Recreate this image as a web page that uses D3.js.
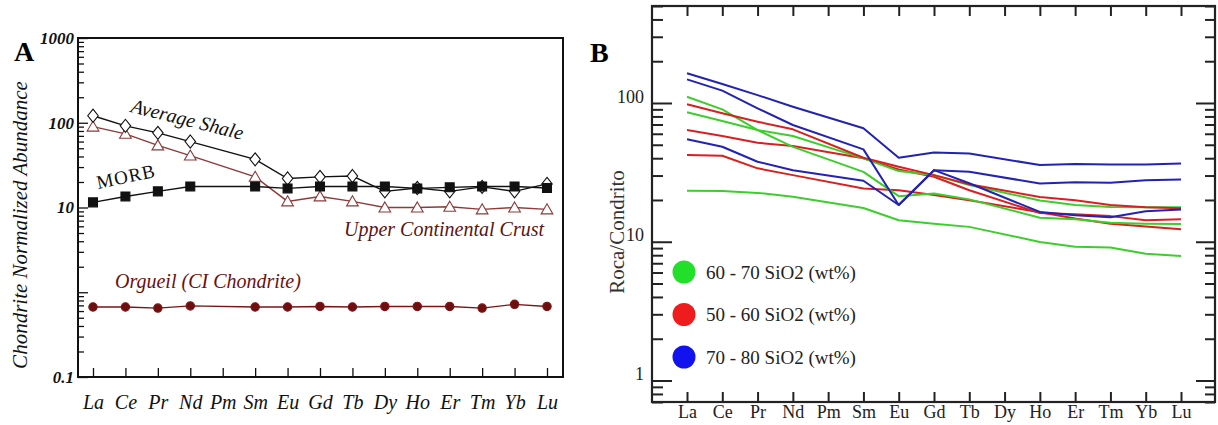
<!DOCTYPE html>
<html><head><meta charset="utf-8">
<script src="https://cdn.jsdelivr.net/npm/d3@7"></script>
<style>body{margin:0;background:#fff}svg{display:block}</style>
</head><body>
<svg id="c" width="1218" height="425"></svg>
<script>
// ---------- DATA ----------
const elements = ["La","Ce","Pr","Nd","Pm","Sm","Eu","Gd","Tb","Dy","Ho","Er","Tm","Yb","Lu"];
// Panel A (chondrite-normalized)
const averageShale = [121, 92, 76, 60, null, 37, 22, 23, 23.5, 15.5, 17, 15.5, 17.5, 15.5, 19];
const morb         = [11.5, 13.5, 15.5, 17.7, null, 17.7, 16.8, 17.7, 17.7, 17.7, 16.8, 17.3, 17.7, 17.7, 17];
const upperCrust   = [90, 74, 54, 41, null, 23, 11.8, 13.5, 11.8, 10, 10, 10.2, 9.5, 10, 9.5];
const orgueil      = [0.67, 0.67, 0.65, 0.69, null, 0.67, 0.67, 0.68, 0.67, 0.68, 0.68, 0.68, 0.65, 0.72, 0.68];
const yTicksA = [1000, 100, 10, 0.1];
// Panel B (roca/condrito)
const green1 = [111, 90, 63.8, 48.3, null, 31.9, 21.3, 22.3, 20.2, null, 14.9, 14.5, 13.7, 13.5, 13.4];
const green2 = [85.7, 74.1, 63.8, 57.8, null, 39.9, 32.3, 30.2, 25.6, null, 19.8, 18.4, 17.8, 17.7, 17.7];
const green3 = [23.3, 23.2, 22.5, 21.1, null, 17.5, 14.3, 13.5, 12.8, null, 9.97, 9.2, 9.08, 8.2, 7.9];
const red1   = [97.9, 84.3, 73.3, 64.6, null, 40.3, 34.7, 30.2, 26.0, null, 21.0, 19.9, 18.4, 17.7, 17.4];
const red2   = [63.8, 57.8, 51.7, 48.9, null, 39.9, 33.2, 29.4, 23.5, null, 16.1, 15.8, 15.3, 14.3, 14.5];
const red3   = [42.1, 41.7, 33.8, 30.2, null, 24.2, 23.5, 21.7, 19.9, null, 16.3, 14.7, 13.5, 12.9, 12.3];
const blue1  = [164, 137, 114, 94, null, 65.7, 40.3, 44, 43.3, null, 35.7, 36.3, 36.1, 36.1, 36.7];
const blue2  = [148, 122.7, 91.5, 69.4, null, 46.3, 18.4, 32.8, 31.9, null, 26.3, 26.8, 26.6, 27.7, 28.1];
const blue3  = [54.7, 48.4, 37.7, 32.8, null, 27.5, 18.4, 32.8, 26.4, null, 16.4, 15.5, 15.0, 16.6, 17.1];
const legendLabels = ["60 - 70 SiO2 (wt%)", "50 - 60 SiO2 (wt%)", "70 - 80 SiO2 (wt%)"];
const yTicksB = [100, 10, 1];

// ---------- COMMON ----------
const svg = d3.select("#c");
const pts = vals => elements.map((e,i)=>[e, vals[i]]).filter(d=>d[1]!=null);
function minors(lo, hi){const r=[];for(let p=Math.floor(Math.log10(lo));p<Math.log10(hi);p++){for(let k=2;k<=9;k++){const v=k*Math.pow(10,p);if(v>=lo-1e-9&&v<=hi+1e-9)r.push(v);}}return r;}
function majors(lo,hi){const r=[];for(let p=Math.ceil(Math.log10(lo));p<=Math.floor(Math.log10(hi));p++)r.push(Math.pow(10,p));return r;}

// ---------- PANEL A ----------
const A = {l:78, r:563, t:38, b:377};
const xA = d3.scalePoint().domain(elements).range([93, 547]);
const yA = d3.scaleLog().domain([0.1, 1000]).range([A.b, A.t]);
const gA = svg.append("g");
const fontA = "'Liberation Serif', serif";

gA.append("g").attr("transform",`translate(${A.l},0)`)
  .call(d3.axisLeft(yA).tickValues(minors(0.1,1000)).tickSize(-6).tickFormat(""))
  .call(g=>g.select(".domain").remove());
gA.append("g").attr("transform",`translate(${A.l},0)`)
  .call(d3.axisLeft(yA).tickValues(majors(0.1,1000)).tickSize(-10).tickPadding(4)
        .tickFormat(d=>yTicksA.includes(d)? (d<1? d3.format(".1f")(d): String(d)) : ""))
  .call(g=>g.select(".domain").remove())
  .call(g=>g.selectAll("text").attr("font-family",fontA).attr("font-style","italic").attr("font-weight","bold").attr("font-size",17).attr("fill","#111"));
gA.append("g").attr("transform",`translate(0,${A.b})`)
  .call(d3.axisBottom(xA).tickSize(-9).tickPadding(18))
  .call(g=>g.select(".domain").remove())
  .call(g=>g.selectAll("text").attr("font-family",fontA).attr("font-style","italic").attr("font-size",20).attr("fill","#111"));
gA.selectAll(".tick line").attr("stroke","#111").attr("stroke-width",1.3);
gA.append("rect").attr("x",A.l).attr("y",A.t).attr("width",A.r-A.l).attr("height",A.b-A.t)
  .attr("fill","none").attr("stroke","#111").attr("stroke-width",2);

const lineA = d3.line().x(d=>xA(d[0])).y(d=>yA(d[1]));
function seriesA(vals, color, marker, fill, size){
  gA.append("path").datum(pts(vals)).attr("d",lineA).attr("fill","none").attr("stroke",color).attr("stroke-width",1.4);
  gA.append("g").selectAll("path").data(pts(vals)).join("path")
    .attr("transform",d=>`translate(${xA(d[0])},${yA(d[1])})`)
    .attr("d",d3.symbol().type(marker).size(size))
    .attr("fill",fill).attr("stroke",color).attr("stroke-width",1.1);
}
const diamond = {draw(ctx,size){const r=Math.sqrt(size)/1.6;ctx.moveTo(0,-r);ctx.lineTo(r*0.8,0);ctx.lineTo(0,r);ctx.lineTo(-r*0.8,0);ctx.closePath();}};
const triUp = {draw(ctx,size){const r=Math.sqrt(size)/1.7;ctx.moveTo(0,-r);ctx.lineTo(r*1.05,r*0.8);ctx.lineTo(-r*1.05,r*0.8);ctx.closePath();}};
seriesA(upperCrust, "#8c3a3a", triUp, "#fff", 90);
seriesA(averageShale, "#111", diamond, "#fff", 110);
seriesA(morb, "#111", d3.symbolSquare, "#111", 80);
seriesA(orgueil, "#7a1515", d3.symbolCircle, "#6e0f0f", 55);

gA.append("text").attr("x",14).attr("y",61).text("A").attr("font-family",fontA).attr("font-weight","bold").attr("font-size",28).attr("fill","#000");
gA.append("text").attr("transform","translate(130,112) rotate(14)").text("Average Shale")
  .attr("font-family",fontA).attr("font-style","italic").attr("font-size",20).attr("fill","#111");
gA.append("text").attr("transform","translate(98,189) rotate(-12)").text("MORB")
  .attr("font-family",fontA).attr("font-size",19).attr("letter-spacing",1).attr("fill","#111");
gA.append("text").attr("x",344).attr("y",236).text("Upper Continental Crust")
  .attr("font-family",fontA).attr("font-style","italic").attr("font-size",20).attr("fill","#5a1414");
gA.append("text").attr("x",115).attr("y",288).text("Orgueil (CI Chondrite)")
  .attr("font-family",fontA).attr("font-style","italic").attr("font-size",20).attr("fill","#6b1010");
gA.append("text").attr("transform","translate(27,225) rotate(-90)").attr("text-anchor","middle")
  .text("Chondrite Normalized Abundance")
  .attr("font-family",fontA).attr("font-style","italic").attr("font-size",21).attr("fill","#111");

// ---------- PANEL B ----------
const B = {l:652, r:1215, t:6, b:402};
const xB = d3.scalePoint().domain(elements).range([687, 1181]);
const yB = d3.scaleLog().domain([0.7, 500]).range([B.b, B.t]);
const gB = svg.append("g");
const fontB = "'Liberation Serif', 'Times New Roman', serif";

gB.append("g").attr("transform",`translate(${B.l},0)`)
  .call(d3.axisLeft(yB).tickValues(minors(0.7,500)).tickSize(-11).tickFormat(""))
  .call(g=>g.select(".domain").remove());
gB.append("g").attr("transform",`translate(${B.l},0)`)
  .call(d3.axisLeft(yB).tickValues(yTicksB).tickSize(-20).tickPadding(8).tickFormat(d3.format("d")))
  .call(g=>g.select(".domain").remove())
  .call(g=>g.selectAll("text").attr("dy","-0.05em").attr("font-family",fontB).attr("font-size",18).attr("fill","#222"));
gB.append("g").attr("transform",`translate(${B.r},0)`)
  .call(d3.axisRight(yB).tickValues(minors(0.7,500)).tickSize(-10).tickFormat(""))
  .call(g=>g.select(".domain").remove());
gB.append("g").attr("transform",`translate(${B.r},0)`)
  .call(d3.axisRight(yB).tickValues(yTicksB).tickSize(-19).tickFormat(""))
  .call(g=>g.select(".domain").remove());
gB.append("g").attr("transform",`translate(0,${B.b})`)
  .call(d3.axisBottom(xB).tickSize(-10).tickPadding(3))
  .call(g=>g.select(".domain").remove())
  .call(g=>g.selectAll("text").attr("font-family",fontB).attr("font-size",18).attr("fill","#222"));
gB.append("g").attr("transform",`translate(0,${B.t})`)
  .call(d3.axisTop(xB).tickSize(-10).tickFormat(""))
  .call(g=>g.select(".domain").remove());
gB.selectAll(".tick line").attr("stroke","#222").attr("stroke-width",2);
gB.append("rect").attr("x",B.l).attr("y",B.t).attr("width",B.r-B.l).attr("height",B.b-B.t)
  .attr("fill","none").attr("stroke","#222").attr("stroke-width",2.2);

const lineB = d3.line().x(d=>xB(d[0])).y(d=>yB(d[1]));
const cGreen = "#3ccf2c", cRed = "#d92020", cBlue = "#2222b4";
[[green3,cGreen],[red3,cRed],[red2,cRed],[green1,cGreen],[green2,cGreen],[red1,cRed],[blue3,cBlue],[blue2,cBlue],[blue1,cBlue]]
  .forEach(([v,c])=>gB.append("path").datum(pts(v)).attr("d",lineB).attr("fill","none").attr("stroke",c).attr("stroke-width",2).attr("stroke-linejoin","round"));

const legColors = ["#22e02a","#ee1c1c","#1212ee"];
const leg = gB.append("g");
legendLabels.forEach((t,i)=>{
  const cy = 272 + i*42.5;
  leg.append("circle").attr("cx",684).attr("cy",cy).attr("r",11.5).attr("fill",legColors[i]);
  leg.append("text").attr("x",706).attr("y",cy).attr("dy","0.35em").text(t)
    .attr("font-family",fontB).attr("font-size",19).attr("fill","#222");
});
gB.append("text").attr("x",590).attr("y",62).text("B").attr("font-family",fontB).attr("font-weight","bold").attr("font-size",28).attr("fill","#000");
gB.append("text").attr("transform","translate(624,232) rotate(-90)").attr("text-anchor","middle")
  .text("Roca/Condrito").attr("font-family",fontB).attr("font-size",21).attr("fill","#333");
</script>
</body></html>
